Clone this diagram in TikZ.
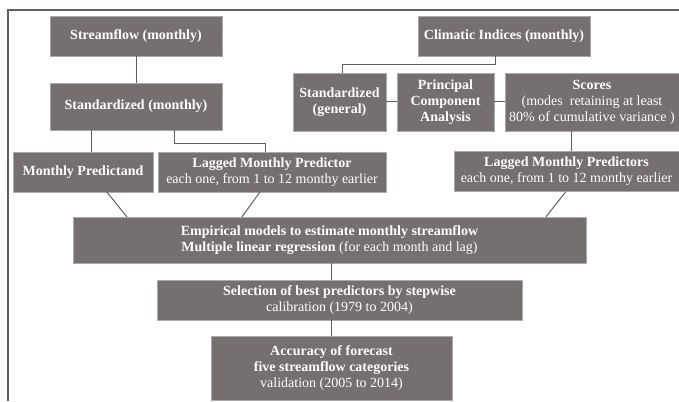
\documentclass[tikz,border=0pt]{standalone}
\usepackage{fontspec}
\setmainfont{Liberation Serif}
\usepackage{xcolor}
\usepackage{tikz}
\usetikzlibrary{positioning,calc}
\definecolor{BoxGray}{RGB}{117,111,111}
\definecolor{LineGray}{RGB}{100,95,95}
\tikzset{
    flowbox/.style={rectangle, fill=BoxGray, draw=BoxGray!60, very thin, text=white, align=center, inner sep=0pt, font=\fontsize{14}{16}\selectfont},
    link/.style={draw=LineGray, line width=1pt}
}

\begin{document}
\begin{tikzpicture}[
                x=1pt, y=-1pt,
                % same box size on each row
                rowbox/.style={flowbox, minimum height=40pt},
                midbox/.style={flowbox, minimum height=58pt}
            ]
                \useasboundingbox (0,0) rectangle (679,401);
                % frame: top and left only
                \draw[LineGray, line width=1.4pt] (8,401) -- (8,10) -- (679,10);

                % left branch
                \node[rowbox, minimum width=172pt] (stream) at (136,36) {\textbf{Streamflow (monthly)}};
                \node[flowbox, minimum width=172pt, minimum height=47pt] (stdm) at (136,106.5) {\textbf{Standardized (monthly)}};
                \node[rowbox, minimum width=140pt] (pred) at (83,172) {\textbf{Monthly Predictand}};
                \node[rowbox, minimum width=228pt] (lagpred) at (272,172) {\textbf{Lagged Monthly Predictor}\\each one, from 1 to 12 monthy earlier};

                % right branch
                \node[rowbox, minimum width=172pt] (climatic) at (504,36) {\textbf{Climatic Indices (monthly)}};
                \node[midbox, minimum width=93pt] (stdg) at (339.5,102) {\textbf{Standardized}\\\textbf{(general)}};
                \node[midbox, minimum width=97pt] (pca) at (445.5,102) {\textbf{Principal}\\\textbf{Component}\\\textbf{Analysis}};
                \node[midbox, minimum width=174pt] (scores) at (592,102) {\textbf{Scores}\\(modes\ \ retaining at least\\80\% of cumulative variance )};
                \node[rowbox, minimum width=225pt] (lagpreds) at (566.5,171.5) {\textbf{Lagged Monthly Predictors}\\each one, from 1 to 12 monthy earlier};

                % model chain
                \node[flowbox, minimum width=513pt, minimum height=46pt] (emp) at (329.5,240) {\textbf{Empirical models to estimate monthly streamflow}\\\textbf{Multiple linear regression} (for each month and lag)};
                \node[rowbox, minimum width=365pt] (sel) at (339.5,300) {\textbf{Selection of best predictors by stepwise}\\calibration (1979 to 2004)};
                \node[flowbox, minimum width=241pt, minimum height=64pt] (acc) at (331.5,368) {\textbf{Accuracy of forecast}\\\textbf{five streamflow categories}\\validation (2005 to 2014)};

                % connectors
                \draw[link] (stream) -- (stdm);
                \draw[link] ([xshift=42pt]stdm.south west) -- ([xshift=42pt]stdm.south west |- pred.north);
                \draw[link] ([xshift=125pt]stdm.south west) -- ++(0,13) -| ([xshift=108pt]lagpred.north west);
                \draw[link] ([xshift=78pt]climatic.south west) -- ++(0,8) -| ([xshift=50pt]stdg.north west);
                \draw[link] (stdg) -- (pca);
                \draw[link] (pca) -- (scores);
                \draw[link] ([xshift=67pt]scores.south west) -- ([xshift=67pt]scores.south west |- lagpreds.north);
                \draw[link] ([xshift=94pt]pred.south west) -- ([xshift=54pt]emp.north west);
                \draw[link] ([xshift=102pt]lagpred.south west) -- ([xshift=169pt]emp.north west);
                \draw[link] ([xshift=112pt]lagpreds.south west) -- ([xshift=473pt]emp.north west);
                \draw[link] ([xshift=259pt]emp.south west) -- ([xshift=259pt]emp.south west |- sel.north);
                \draw[link] ([xshift=259pt]emp.south west |- sel.south) -- ([xshift=259pt]emp.south west |- acc.north);
            \end{tikzpicture}
\end{document}
